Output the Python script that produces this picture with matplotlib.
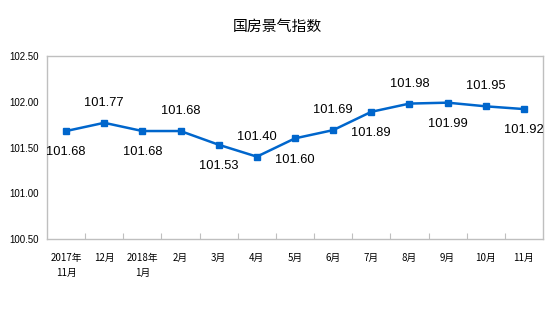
import matplotlib
matplotlib.use("Agg")
import matplotlib.pyplot as plt

plt.rcParams['font.family'] = ['Noto Sans CJK SC', 'DejaVu Sans']

# data
months = ["2017年\n11月", "12月", "2018年\n1月", "2月", "3月", "4月", "5月",
          "6月", "7月", "8月", "9月", "10月", "11月"]
index_values = [101.68, 101.77, 101.68, 101.68, 101.53, 101.40, 101.60,
                101.69, 101.89, 101.98, 101.99, 101.95, 101.92]
label_above = [False, True, False, True, False, True, False,
               True, False, True, False, True, False]
y_ticks = [100.50, 101.00, 101.50, 102.00, 102.50]

line_color = "#0066CC"
axis_color = "#BFBFBF"

fig = plt.figure(figsize=(5.54, 3.31), dpi=100)
ax = fig.add_axes([47 / 554, 1 - 239 / 331, (543 - 47) / 554, (239 - 56) / 331])

x = list(range(len(months)))
ax.plot(x, index_values, color=line_color, linewidth=1.8, marker="s",
        markersize=5, zorder=3)

# point labels, alternating above/below
for xi, v, up in zip(x, index_values, label_above):
    ax.annotate(f"{v:.2f}", (xi, v), xytext=(0, 10 if up else -11),
                textcoords="offset points", ha="center",
                va="bottom" if up else "top", fontsize=9.3,
                family=["Liberation Sans", "DejaVu Sans"], color="#000000")

ax.set_xlim(-0.5, len(months) - 0.5)
ax.set_ylim(100.50, 102.50)
ax.set_yticks(y_ticks)
ax.set_yticklabels([f"{t:.2f}" for t in y_ticks], fontsize=7,
                   family=["Liberation Sans", "DejaVu Sans"])

# category ticks at boundaries, labels at centers
ax.set_xticks([i + 0.5 for i in x[:-1]])
ax.set_xticklabels([])
ax.set_xticks(x, minor=True)
ax.set_xticklabels(months, minor=True, fontsize=7, linespacing=1.6)
ax.tick_params(axis="x", which="major", length=4, color=axis_color,
               direction="in")
ax.tick_params(axis="x", which="minor", length=0, pad=10)
ax.tick_params(axis="y", length=0, pad=6)

for side in ["left", "bottom", "top", "right"]:
    ax.spines[side].set_color(axis_color)
    ax.spines[side].set_linewidth(1)

fig.text(0.5, 1 - 27 / 331, "国房景气指数", ha="center", va="center",
         fontsize=10.7)

fig.savefig("out.png", dpi=100)
